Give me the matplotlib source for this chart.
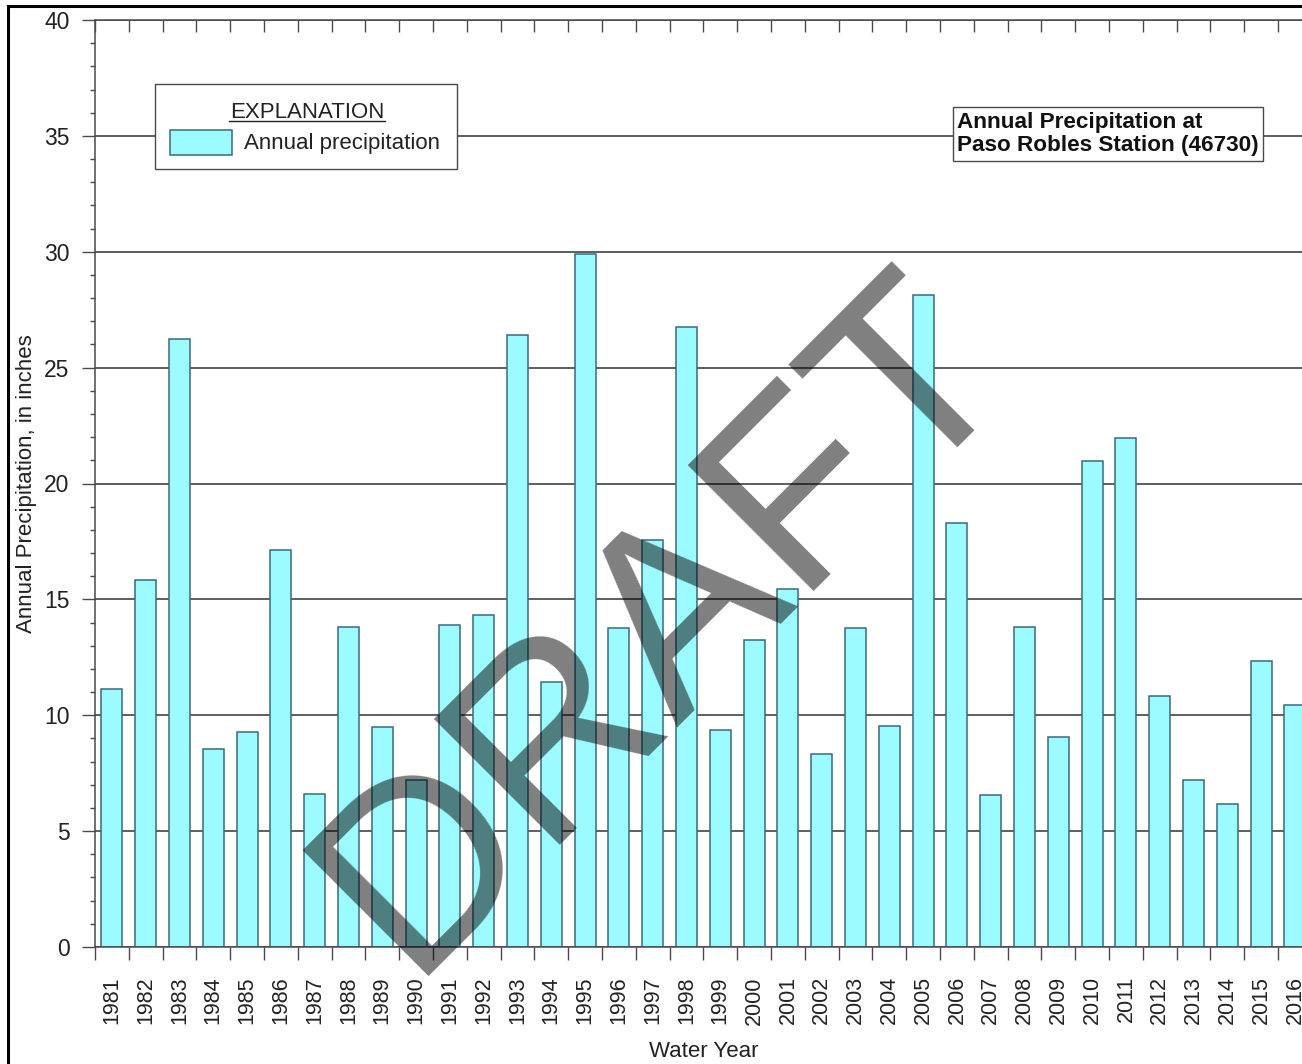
import matplotlib
matplotlib.use("Agg")
import matplotlib.pyplot as plt
import numpy as np
from matplotlib.patches import Rectangle
from matplotlib.lines import Line2D
from matplotlib.ticker import MultipleLocator

plt.rcParams["font.family"] = ["Liberation Sans", "DejaVu Sans"]

# Annual precipitation at Paso Robles station (46730), inches per water year
years = list(range(1981, 2017))
precip = [
    11.14, 15.82, 26.22, 8.53, 9.28, 17.12, 6.62, 13.80, 9.48, 7.21,
    13.89, 14.34, 26.42, 11.44, 29.90, 13.75, 17.58, 26.76, 9.37, 13.23,
    15.45, 8.33, 13.78, 9.52, 28.15, 18.31, 6.58, 13.81, 9.05, 20.98,
    21.96, 10.81, 7.20, 6.16, 12.35, 10.46,
]
y_ticks = [0, 5, 10, 15, 20, 25, 30, 35, 40]

W, H = 1302, 1064
BAR_FACE = "#9cfbff"
BAR_EDGE = "#3a6a7e"
LINE = "#4a4a4a"


def px(x, y):
    """Pixel position (from top-left) to figure fraction."""
    return x / W, 1 - y / H


fig = plt.figure(figsize=(W / 100, H / 100), dpi=100)
ax = fig.add_axes([95 / W, 117 / H, 36 * 33.8 / W, 927 / H])

pos = np.arange(len(years)) + 0.5
ax.bar(pos, precip, width=0.62, color=BAR_FACE, edgecolor=BAR_EDGE,
       linewidth=1.1, zorder=2)

ax.set_xlim(0, 36)
ax.set_ylim(0, 40)
ax.set_axisbelow(True)
ax.yaxis.grid(True, color="#5e5e5e", linewidth=1.4)

# y axis: majors every 5, minors every 1, both outward
ax.set_yticks(y_ticks)
ax.yaxis.set_minor_locator(MultipleLocator(1))
ax.tick_params(axis="y", which="major", length=9.4, width=1.0, color=LINE,
               labelsize=16.5, pad=9, labelcolor="#222222")
ax.tick_params(axis="y", which="minor", length=3.8, width=1.0, color=LINE)

# x axis: boundary ticks at bar edges, year labels centred under bars
ax.set_xticks(np.arange(0, 37))
ax.set_xticklabels([])
ax.set_xticks(pos, minor=True)
ax.set_xticklabels([str(y) for y in years], minor=True, rotation=90)
ax.tick_params(axis="x", which="major", length=9.4, width=1.0, color=LINE)
ax.tick_params(axis="x", which="minor", length=0, labelsize=15.5, pad=21,
               labelcolor="#222222")

top = ax.secondary_xaxis("top")
top.set_xticks(np.arange(0, 37))
top.set_xticklabels([])
top.tick_params(axis="x", direction="in", length=8.8, width=1.0, color=LINE)
top.spines["top"].set_visible(False)

for side in ("left", "bottom", "top"):
    ax.spines[side].set_color(LINE)
    ax.spines[side].set_linewidth(1.1)
ax.spines["right"].set_visible(False)

ax.set_ylabel("Annual Precipitation, in inches", fontsize=16, color="#222222")
ax.yaxis.set_label_coords(-0.048, 0.5)
ax.set_xlabel("Water Year", fontsize=16, color="#222222")
ax.xaxis.set_label_coords(0.5, -0.101)

# explanation box
x0, y0 = px(155, 169)
x1, y1 = px(457, 84)
fig.add_artist(Rectangle((x0, y0), x1 - x0, y1 - y0, transform=fig.transFigure,
                         facecolor="white", edgecolor=LINE, linewidth=1.0,
                         zorder=5))
tx, ty = px(307, 118)
fig.text(tx, ty, "EXPLANATION", ha="center", va="baseline", fontsize=16,
         color="#222222", zorder=6)
ux0, uy = px(229, 121)
ux1, _ = px(385, 121)
fig.add_artist(Line2D([ux0, ux1], [uy, uy], transform=fig.transFigure,
                      color="#222222", linewidth=1.0, zorder=6))
sx0, sy0 = px(170, 155)
sx1, sy1 = px(232, 130)
fig.add_artist(Rectangle((sx0, sy0), sx1 - sx0, sy1 - sy0,
                         transform=fig.transFigure, facecolor=BAR_FACE,
                         edgecolor=BAR_EDGE, linewidth=1.1, zorder=6))
lx, ly = px(244, 143)
fig.text(lx, ly, "Annual precipitation", ha="left", va="center", fontsize=16,
         color="#222222", zorder=6)

# station title box
bx, by = px(957, 134)
fig.text(bx, by, "Annual Precipitation at\nPaso Robles Station (46730)",
         ha="left", va="center", fontsize=16.2, fontweight="bold",
         linespacing=1.15, color="#111111", zorder=6,
         bbox=dict(boxstyle="square,pad=0.2", facecolor="white",
                   edgecolor=LINE, linewidth=1.0))

# DRAFT stamp
dx, dy = px(408, 976)
fig.text(dx, dy, "DRAFT", rotation=45, rotation_mode="anchor", ha="left",
         va="baseline", fontsize=186, color="black", alpha=0.5, zorder=10)

# outer frame
fx0, fy0 = px(8, 1400)
fx1, fy1 = px(1500, 6)
fig.add_artist(Rectangle((fx0, fy0), fx1 - fx0, fy1 - fy0,
                         transform=fig.transFigure, fill=False,
                         edgecolor="black", linewidth=2.2, zorder=20))

fig.savefig("out.png", dpi=100)
